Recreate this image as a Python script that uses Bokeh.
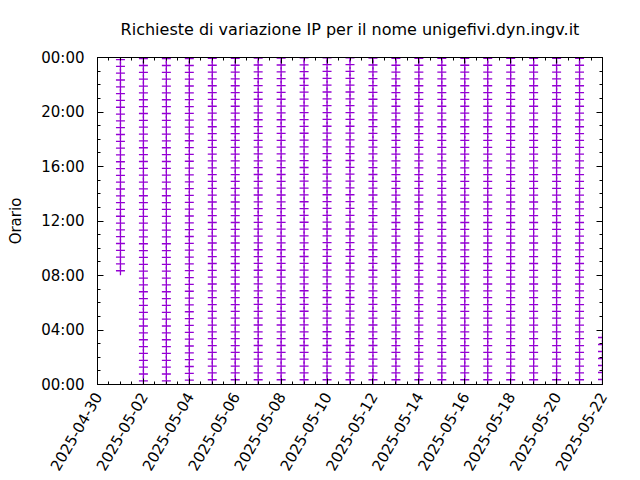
import pandas as pd
from bokeh.plotting import figure
from bokeh.models import (Range1d, FixedTicker, DatetimeTickFormatter, LinearAxis,
                          DatetimeAxis, ColumnDataSource)
from bokeh.embed import file_html
from bokeh.resources import INLINE
from math import pi

# ---- data ----
days = ["2025-05-01", "2025-05-02", "2025-05-03", "2025-05-04", "2025-05-05",
        "2025-05-06", "2025-05-07", "2025-05-08", "2025-05-09", "2025-05-10",
        "2025-05-11", "2025-05-12", "2025-05-13", "2025-05-14", "2025-05-15",
        "2025-05-16", "2025-05-17", "2025-05-18", "2025-05-19", "2025-05-20",
        "2025-05-21", "2025-05-22"]
first_req = ["08:21", "00:16", "00:16", "00:19", "00:21", "00:21", "00:21", "00:21",
             "00:21", "00:21", "00:21", "00:21", "00:21", "00:21", "00:21", "00:21",
             "00:21", "00:21", "00:21", "00:21", "00:21", "00:22"]
last_req = ["23:51", "23:55", "23:55", "23:55", "23:56", "23:56", "23:57", "23:57",
            "23:58", "23:59", "23:59", "23:57", "23:56", "23:56", "23:56", "23:56",
            "23:56", "23:56", "23:56", "23:56", "23:56", "03:27"]
n_req = [32, 48, 48, 48, 48, 48, 48, 48, 48, 48, 48, 48, 48, 48, 48, 48, 48, 48,
         48, 48, 48, 7]

x_ticks = ["2025-04-30", "2025-05-02", "2025-05-04", "2025-05-06", "2025-05-08",
           "2025-05-10", "2025-05-12", "2025-05-14", "2025-05-16", "2025-05-18",
           "2025-05-20", "2025-05-22"]
y_ticks = [0, 4, 8, 12, 16, 20, 24]
y_tick_labels = ["00:00", "04:00", "08:00", "12:00", "16:00", "20:00", "00:00"]

title = "Richieste di variazione IP per il nome unigefivi.dyn.ingv.it"
y_label = "Orario"

# ---- build the points ----
def hours(s):
    h, m = s.split(":")
    return int(h) + int(m) / 60.0

xs, ys = [], []
for d, f, l, n in zip(days, first_req, last_req, n_req):
    a, b = hours(f), hours(l)
    for i in range(n):
        xs.append(pd.Timestamp(d))
        ys.append(a + (b - a) * i / (n - 1))
src = ColumnDataSource(dict(x=xs, y=ys))

FONT = "DejaVu Sans"
FS = "15px"

p = figure(frame_width=505, frame_height=327, x_axis_type="datetime",
           output_backend="svg", toolbar_location=None,
           min_border_left=97, min_border_top=57, min_border_right=30,
           min_border_bottom=86,
           x_range=Range1d(pd.Timestamp("2025-04-30"), pd.Timestamp("2025-05-22")),
           y_range=Range1d(0, 24))
p.title.text = title
p.title.align = "center"
p.title.vertical_align = "top"
p.title.text_font = FONT
p.title.text_font_size = "16px"
p.title.text_font_style = "normal"
p.title.text_color = "black"
p.title.standoff = 34

p.grid.visible = False
p.outline_line_color = "black"
p.outline_line_width = 1
p.background_fill_color = "white"
p.border_fill_color = "white"

xt_ms = [pd.Timestamp(t).value // 10**6 for t in x_ticks]
x_minor = [t.value // 10**6 for t in pd.date_range(x_ticks[0], x_ticks[-1], freq="12h")]
xticker = FixedTicker(ticks=xt_ms, minor_ticks=x_minor)
yticker = FixedTicker(ticks=y_ticks, minor_ticks=list(range(25)))
fmt = DatetimeTickFormatter(days="%Y-%m-%d", months="%Y-%m-%d", hours="%Y-%m-%d",
                            years="%Y-%m-%d")

def style(ax):
    ax.axis_line_color = "black"
    ax.major_tick_line_color = "black"
    ax.minor_tick_line_color = "black"
    ax.major_tick_in = 6
    ax.major_tick_out = 0
    ax.minor_tick_in = 3
    ax.minor_tick_out = 0
    ax.major_label_text_font = FONT
    ax.major_label_text_font_size = FS
    ax.major_label_text_color = "black"
    ax.axis_label_text_font = FONT
    ax.axis_label_text_font_size = FS
    ax.axis_label_text_font_style = "normal"
    ax.axis_label_text_color = "black"

xa = p.xaxis[0]
xa.ticker = xticker
xa.formatter = fmt
xa.major_label_orientation = pi / 3
style(xa)
xa.major_label_standoff = 9

ya = p.yaxis[0]
ya.ticker = yticker
ya.major_label_overrides = {t: l for t, l in zip(y_ticks, y_tick_labels)}
ya.axis_label = y_label
style(ya)
ya.major_label_standoff = 13
ya.axis_label_standoff = 13

ra = LinearAxis(ticker=yticker)
style(ra)
ra.major_label_text_color = None
ra.major_label_text_font_size = "0px"
p.add_layout(ra, "right")

ta = DatetimeAxis(ticker=xticker, formatter=fmt)
style(ta)
ta.major_label_text_color = None
ta.major_label_text_font_size = "0px"
p.add_layout(ta, "above")

p.scatter("x", "y", source=src, marker="cross", size=9, line_width=1.3,
          line_color="#9400D3")

open("out.html", "w").write(file_html(p, INLINE))
